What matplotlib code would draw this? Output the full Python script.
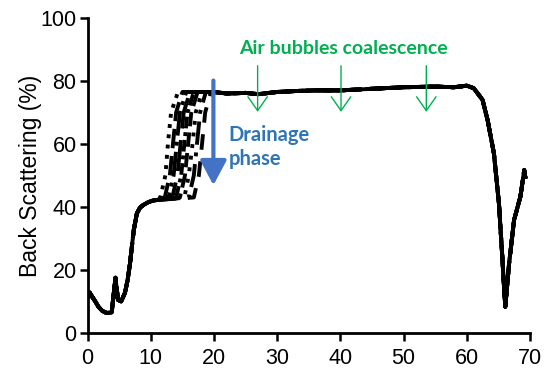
import matplotlib.pyplot as plt

# Perfil comun (parte izquierda, antes del frente de drenaje)
left_x = [0.0, 0.3, 0.7, 1.2, 1.7, 2.3, 3.0, 3.8, 4.1, 4.4, 4.8, 5.3, 5.9, 6.3, 6.7, 7.0, 7.3, 7.8, 8.3, 8.8, 9.6, 10.3, 11.0]
left_y = [11.0, 12.8, 11.5, 10.0, 8.3, 7.0, 6.3, 6.5, 12.0, 17.5, 10.5, 10.0, 12.7, 16.5, 22.0, 27.5, 32.7, 38.0, 39.8, 40.6, 41.5, 42.0, 42.2]

# Frente de drenaje: posicion x de cada curva para cada nivel de BS
front_levels = [43, 50, 60, 70, 76.5]
front_x = [
    [11.5, 12.3, 12.7, 13.2, 14.3],
    [12.2, 13.0, 13.5, 14.0, 15.0],
    [12.8, 13.6, 14.1, 14.6, 15.6],
    [13.4, 14.2, 14.7, 15.2, 16.2],
    [14.0, 14.8, 15.3, 15.8, 16.8],
    [14.6, 15.4, 15.9, 16.4, 17.4],
    [15.3, 16.0, 16.6, 17.1, 18.1],
    [16.0, 16.8, 17.3, 17.8, 18.7],
    [16.8, 17.6, 18.1, 18.6, 19.5],
]

# Meseta y caida final (comun)
right_x = [20.0, 22.0, 25.0, 27.0, 30.0, 33.0, 36.0, 40.0, 45.0, 50.0, 55.0, 58.0, 60.0, 61.1, 62.5,
           63.3, 64.3, 65.1, 65.6, 65.9, 66.1, 66.7, 67.5, 68.5, 69.1, 69.3]
right_y = [76.5, 76.0, 76.2, 75.8, 76.5, 76.8, 77.0, 77.0, 77.5, 78.0, 78.2, 78.0, 78.5, 77.7, 74.0,
           67.6, 57.0, 41.0, 25.0, 14.7, 8.3, 22.0, 35.9, 43.3, 51.7, 49.0]

styles = [':', (0, (5, 2)), '-.', (0, (8, 3)), (0, (3, 1, 1, 1)), '--', (0, (1, 2)), (0, (6, 2, 1, 2)), (0, (4, 3))]

plt.rcParams['font.family'] = ['Liberation Sans', 'DejaVu Sans']
fig = plt.figure(figsize=(5.48, 3.74), dpi=100)
ax = fig.add_axes([0.16, 0.11, 0.807, 0.842])

for fx, ls in zip(front_x, styles):
    xs = left_x + fx + right_x
    ys = left_y + front_levels + right_y
    ax.plot(xs, ys, color='black', lw=2.8, ls=ls)

# Anotaciones
green = '#00B050'
ax.text(40.5, 90.3, 'Air bubbles coalescence', color=green, fontsize=14,
        fontweight='bold', family=['Lato', 'DejaVu Sans'], ha='center', va='center')
for ax_x in [26.9, 40.1, 53.6]:
    ax.annotate('', xy=(ax_x, 69.3), xytext=(ax_x, 85.7),
                arrowprops=dict(arrowstyle='->,head_length=1.0,head_width=0.7', color=green, lw=1.0))

blue = '#4472C4'
ax.annotate('', xy=(19.9, 46), xytext=(19.9, 81),
            arrowprops=dict(arrowstyle='-|>,head_length=1.5,head_width=0.8', color=blue, lw=3))
ax.text(22.3, 59, 'Drainage\nphase', color='#2E75B6', fontsize=14.5, fontweight='bold',
        family=['Lato', 'DejaVu Sans'], ha='left', va='center', linespacing=1.2)

ax.set_xlim(0, 70)
ax.set_ylim(0, 100)
ax.set_xticks(range(0, 71, 10))
ax.set_yticks(range(0, 101, 20))
ax.set_ylabel('Back Scattering (%)', fontsize=16.5, labelpad=-1)
ax.tick_params(axis='both', labelsize=15.5, width=1.8, length=6)
ax.tick_params(axis='x', pad=5)
ax.tick_params(axis='y', pad=2)
for side in ['top', 'right']:
    ax.spines[side].set_visible(False)
for side in ['left', 'bottom']:
    ax.spines[side].set_linewidth(2)

fig.savefig('out.png', dpi=100)
